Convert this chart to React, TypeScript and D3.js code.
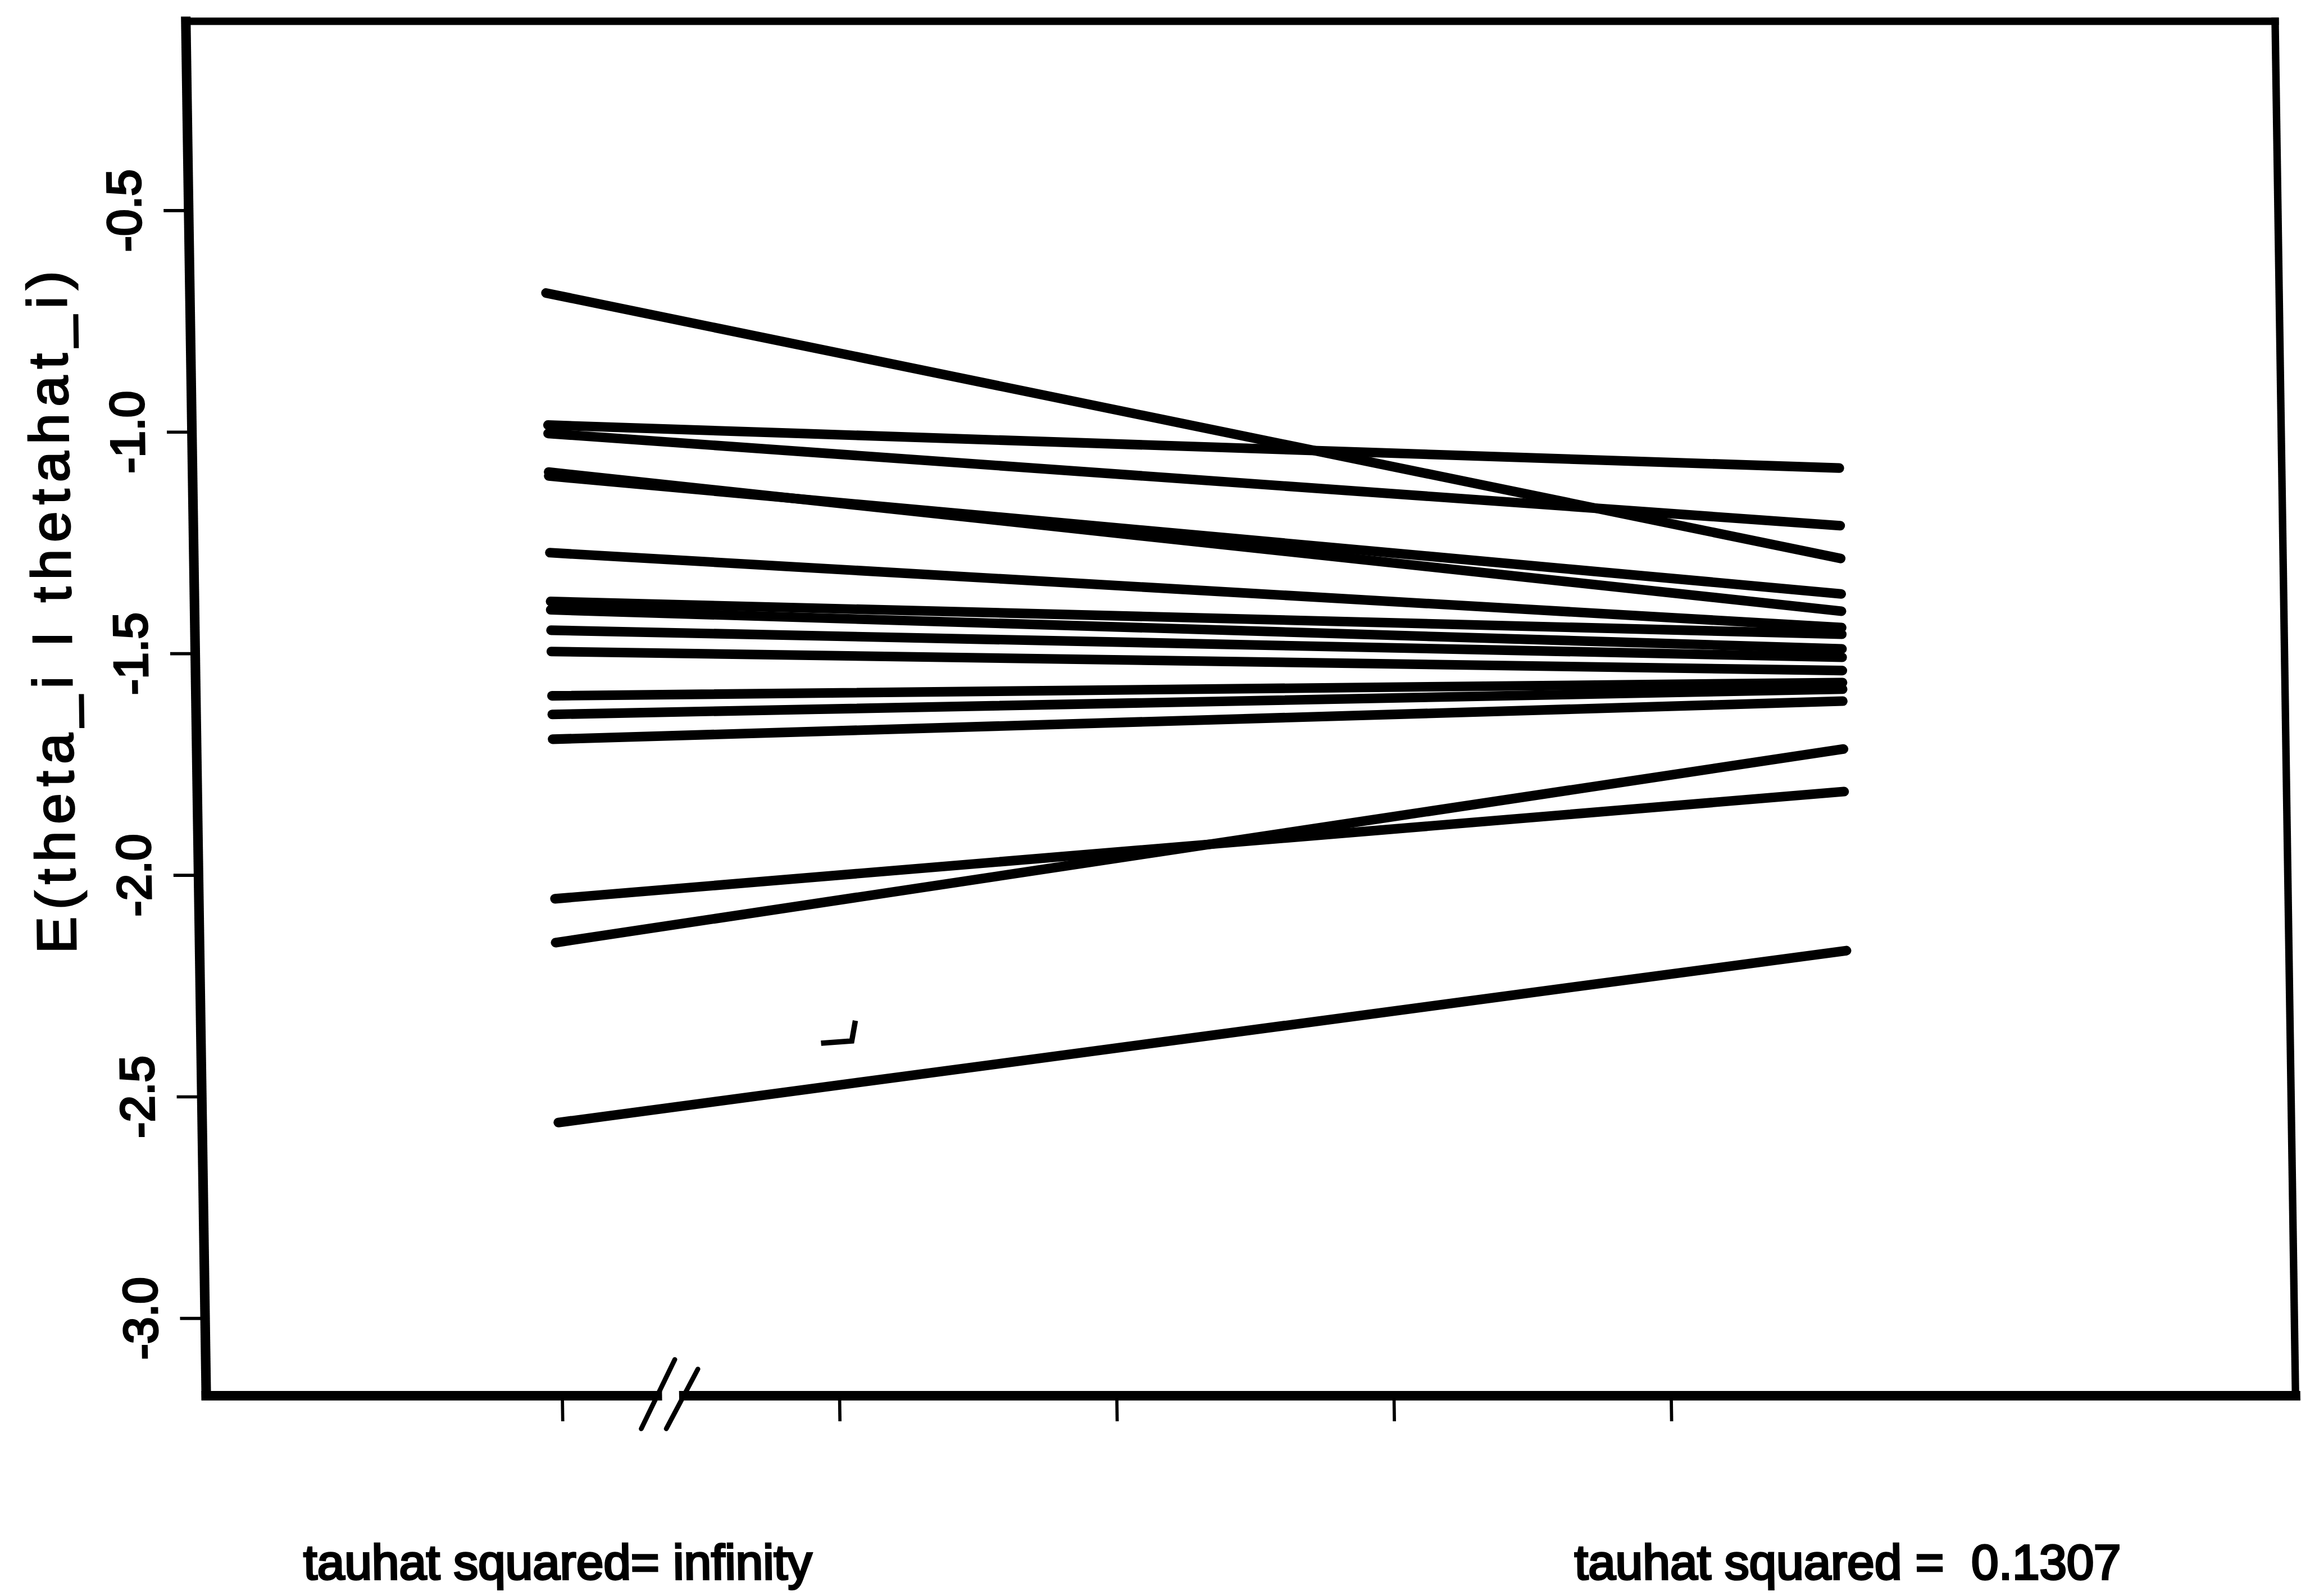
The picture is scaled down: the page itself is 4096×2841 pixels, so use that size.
import React from "react";
import * as d3 from "d3";

// ---- data ----
const xPositions = [0, 4.656]; // x position (in tick units) of tauhat^2 = infinity and tauhat^2 = 0.1307
const thetaAtInfinity = [-0.686, -0.984, -1.003, -1.09, -1.099, -1.272, -1.382, -1.401, -1.447, -1.495, -1.595, -1.637, -1.693, -2.053, -2.152, -2.558];
const thetaAtTauhat = [-1.285, -1.081, -1.211, -1.404, -1.365, -1.441, -1.456, -1.489, -1.508, -1.538, -1.565, -1.58, -1.607, -1.811, -1.715, -2.17];
const yTicks = [-0.5, -1.0, -1.5, -2.0, -2.5, -3.0];
const yTickLabels = ["-0.5", "-1.0", "-1.5", "-2.0", "-2.5", "-3.0"];
const xTicks = [0, 1, 2, 3, 4];
const yAxisTitle = "E(theta_i I thetahat_i)";
const bottomLabels = ["tauhat squared= infinity", "tauhat squared =  0.1307"];
// small scan marks (data units)
const specX = [0.952, 1.063, 1.077];
const specY = [-2.379, -2.374, -2.328];

const W = 4096;
const H = 2841;
const S = 0.949;

export default function App() {
  const x = d3.scaleLinear().domain([0, 4]).range([1016, 3096]);
  const y = d3.scaleLinear().domain([-0.5, -3.0]).range([395, 2473]);

  const frame = { left: 348, right: 4267, top: 40, bottom: 2618 };
  const line = d3
    .line<[number, number]>()
    .x((d) => x(d[0]))
    .y((d) => y(d[1]));

  const series = thetaAtInfinity.map((v, i) => [
    [xPositions[0], v],
    [xPositions[1], thetaAtTauhat[i]],
  ] as [number, number][]);

  const specPts = specX.map((v, i) => [v, specY[i]] as [number, number]);

  const font = "'Liberation Sans', Arial, Helvetica, sans-serif";
  // break marks
  const br1 = { x1: 1228, y1: 2550, x2: 1163, y2: 2680 };
  const br2 = { x1: 1271, y1: 2568, x2: 1210, y2: 2680 };

  return (
    <svg
      width={W}
      height={H}
      style={{ position: "absolute", left: 0, top: 0, background: "#fff" }}
    >
      <rect x={0} y={0} width={W} height={H} fill="#fff" />
      <g transform={`scale(${S}) skewX(0.85)`}>
        {/* frame */}
        <g stroke="#000" fill="none" strokeLinecap="square">
          <line x1={frame.left} y1={frame.top} x2={frame.left} y2={frame.bottom} strokeWidth={18} />
          <line x1={frame.left} y1={frame.top} x2={frame.right} y2={frame.top} strokeWidth={14} />
          <line x1={frame.right} y1={frame.top} x2={frame.right} y2={frame.bottom} strokeWidth={14} />
          <line x1={frame.left} y1={frame.bottom} x2={1194} y2={frame.bottom} strokeWidth={18} />
          <line x1={1244} y1={frame.bottom} x2={frame.right} y2={frame.bottom} strokeWidth={18} />
        </g>
        {/* axis break */}
        <g stroke="#000" strokeWidth={9} strokeLinecap="round">
          <line {...br1} />
          <line {...br2} />
        </g>
        {/* y ticks */}
        <g stroke="#000" strokeWidth={6}>
          {yTicks.map((t) => (
            <line key={t} x1={301} x2={frame.left} y1={y(t)} y2={y(t)} />
          ))}
        </g>
        {/* x ticks */}
        <g stroke="#000" strokeWidth={6}>
          {xTicks.map((t) => (
            <line key={t} x1={x(t)} x2={x(t)} y1={frame.bottom} y2={2666} />
          ))}
        </g>
        {/* y tick labels */}
        <g fontFamily={font} fontSize={90} fill="#000" stroke="#000" strokeWidth={4}>
          {yTicks.map((t, i) => (
            <text
              key={t}
              transform={`translate(258, ${y(t)}) rotate(-90)`}
              textAnchor="middle"
            >
              {yTickLabels[i]}
            </text>
          ))}
        </g>
        {/* y axis title */}
        <text
          transform={`translate(116, 1142) rotate(-90)`}
          textAnchor="middle"
          fontFamily={font}
          fontSize={104}
          letterSpacing={13}
          fill="#000"
          stroke="#000"
          strokeWidth={3}
        >
          {yAxisTitle}
        </text>
        {/* data lines */}
        <g stroke="#000" strokeWidth={18} fill="none" strokeLinecap="round">
          {series.map((s, i) => (
            <path key={i} d={line(s) || ""} />
          ))}
        </g>
        {/* scan marks */}
        <path d={line(specPts) || ""} stroke="#000" strokeWidth={10} fill="none" />
        {/* bottom labels */}
        <g fontFamily={font} fontSize={92} fill="#000" stroke="#000" strokeWidth={4}>
          <text x={526} y={2962} style={{ whiteSpace: "pre" }}>
            {bottomLabels[0]}
          </text>
          <text x={2910} y={2962} style={{ whiteSpace: "pre" }}>
            {bottomLabels[1]}
          </text>
        </g>
      </g>
    </svg>
  );
}
